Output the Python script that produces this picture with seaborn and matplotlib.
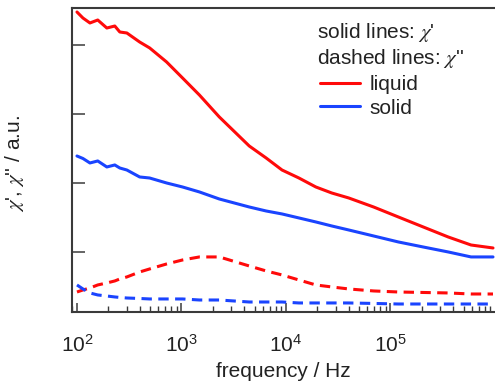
import numpy as np
import pandas as pd
import seaborn as sns
import matplotlib
matplotlib.use("Agg")
import matplotlib.pyplot as plt
from matplotlib.lines import Line2D
from matplotlib.ticker import LogLocator, NullFormatter, NullLocator

# ---- data ----
freq = [100, 114, 133, 158, 193, 230, 257, 300, 398, 496, 720, 1023, 1484,
        2300, 4450, 6460, 9160, 13300, 19300, 27400, 39800, 68900, 119000,
        206000, 357000, 590000, 957000]

liquid_chi1 = [4.478, 4.391, 4.319, 4.362, 4.246, 4.275, 4.188, 4.174, 4.043,
               3.957, 3.754, 3.522, 3.275, 2.957, 2.536, 2.362, 2.188, 2.072,
               1.942, 1.855, 1.783, 1.652, 1.507, 1.362, 1.217, 1.101, 1.058]
solid_chi1 = [2.391, 2.355, 2.290, 2.319, 2.232, 2.261, 2.217, 2.188, 2.087,
              2.072, 2.000, 1.942, 1.870, 1.768, 1.652, 1.594, 1.551, 1.493,
              1.435, 1.377, 1.319, 1.232, 1.145, 1.072, 1.000, 0.928, 0.928]
liquid_chi2 = [0.420, 0.449, 0.478, 0.522, 0.551, 0.580, 0.609, 0.638, 0.710,
               0.754, 0.826, 0.884, 0.928, 0.928, 0.797, 0.725, 0.667, 0.594,
               0.522, 0.493, 0.464, 0.435, 0.420, 0.413, 0.406, 0.391, 0.391]
solid_chi2 = [0.522, 0.464, 0.406, 0.377, 0.362, 0.348, 0.341, 0.333, 0.326,
              0.319, 0.319, 0.319, 0.304, 0.304, 0.275, 0.275, 0.275, 0.261,
              0.261, 0.261, 0.261, 0.254, 0.246, 0.246, 0.246, 0.246, 0.246]

yticks = [1, 2, 3, 4]
xticks = [1e2, 1e3, 1e4, 1e5]

RED = "#ff0a0a"
BLUE = "#1a44ff"

sns.set_style("ticks")
plt.rcParams["font.family"] = ["Liberation Sans", "DejaVu Sans"]
plt.rcParams["mathtext.fontset"] = "stix"

fig = plt.figure(figsize=(4.95, 3.86), dpi=100)
W, H = 495, 386
ax = fig.add_axes([72 / W, 1 - 312 / H, 1 - 72 / W, (312 - 8) / H])

lw = 2.2
dash = (3.4, 2.1)
sns.lineplot(x=freq, y=liquid_chi1, ax=ax, color=RED, lw=lw, sort=False)
sns.lineplot(x=freq, y=solid_chi1, ax=ax, color=BLUE, lw=lw, sort=False)
sns.lineplot(x=freq, y=liquid_chi2, ax=ax, color=RED, lw=lw, sort=False)
ax.lines[-1].set_dashes(dash)
sns.lineplot(x=freq, y=solid_chi2, ax=ax, color=BLUE, lw=lw, sort=False)
ax.lines[-1].set_dashes(dash)

ax.set_xscale("log")
ax.set_xlim(89.6, 1.0e6)
ax.set_ylim(0.13, 4.536)
ax.set_yticks(yticks)
ax.set_yticklabels([])
ax.yaxis.set_minor_locator(NullLocator())
ax.set_xticks(xticks)
ax.xaxis.set_minor_locator(LogLocator(base=10, subs=np.arange(2, 10)))
ax.xaxis.set_minor_formatter(NullFormatter())

spine_c = "#3a3a3a"
for s in ["left", "bottom", "top"]:
    ax.spines[s].set_linewidth(1.5)
    ax.spines[s].set_color(spine_c)
ax.spines["right"].set_visible(False)

ax.tick_params(axis="y", which="major", direction="in", length=9.5, width=1.1,
               color=spine_c, left=True, right=False)
ax.tick_params(axis="x", which="major", direction="in", length=6.5, width=1.1,
               color=spine_c, labelsize=15, pad=16, top=False,
               labelcolor="#222222")
ax.tick_params(axis="x", which="minor", direction="in", length=4, width=1.0,
               color=spine_c, top=False)

ax.set_xlabel("frequency / Hz", fontsize=15, color="#222222", labelpad=4)
ax.set_ylabel(r"$\chi$', $\chi$'' / a.u.", fontsize=15, color="#222222")
ax.yaxis.set_label_coords(-0.108, 0.49)

fig.text(317 / W, 1 - 33 / H, r"solid lines: $\chi$'", fontsize=15,
         color="#222222", va="center", ha="left")
fig.text(317 / W, 1 - 58 / H, r"dashed lines: $\chi$''", fontsize=15,
         color="#222222", va="center", ha="left")

handles = [Line2D([], [], color=RED, lw=lw), Line2D([], [], color=BLUE, lw=lw)]
leg = ax.legend(handles, ["liquid", "solid"], loc="upper left",
                bbox_to_anchor=(320 / W, 1 - 75 / H),
                bbox_transform=fig.transFigure, frameon=False, fontsize=15,
                handlelength=1.92, handletextpad=0.45, labelspacing=0.22,
                borderpad=0, borderaxespad=0)
for t in leg.get_texts():
    t.set_color("#222222")

fig.savefig("out.png", dpi=100)
